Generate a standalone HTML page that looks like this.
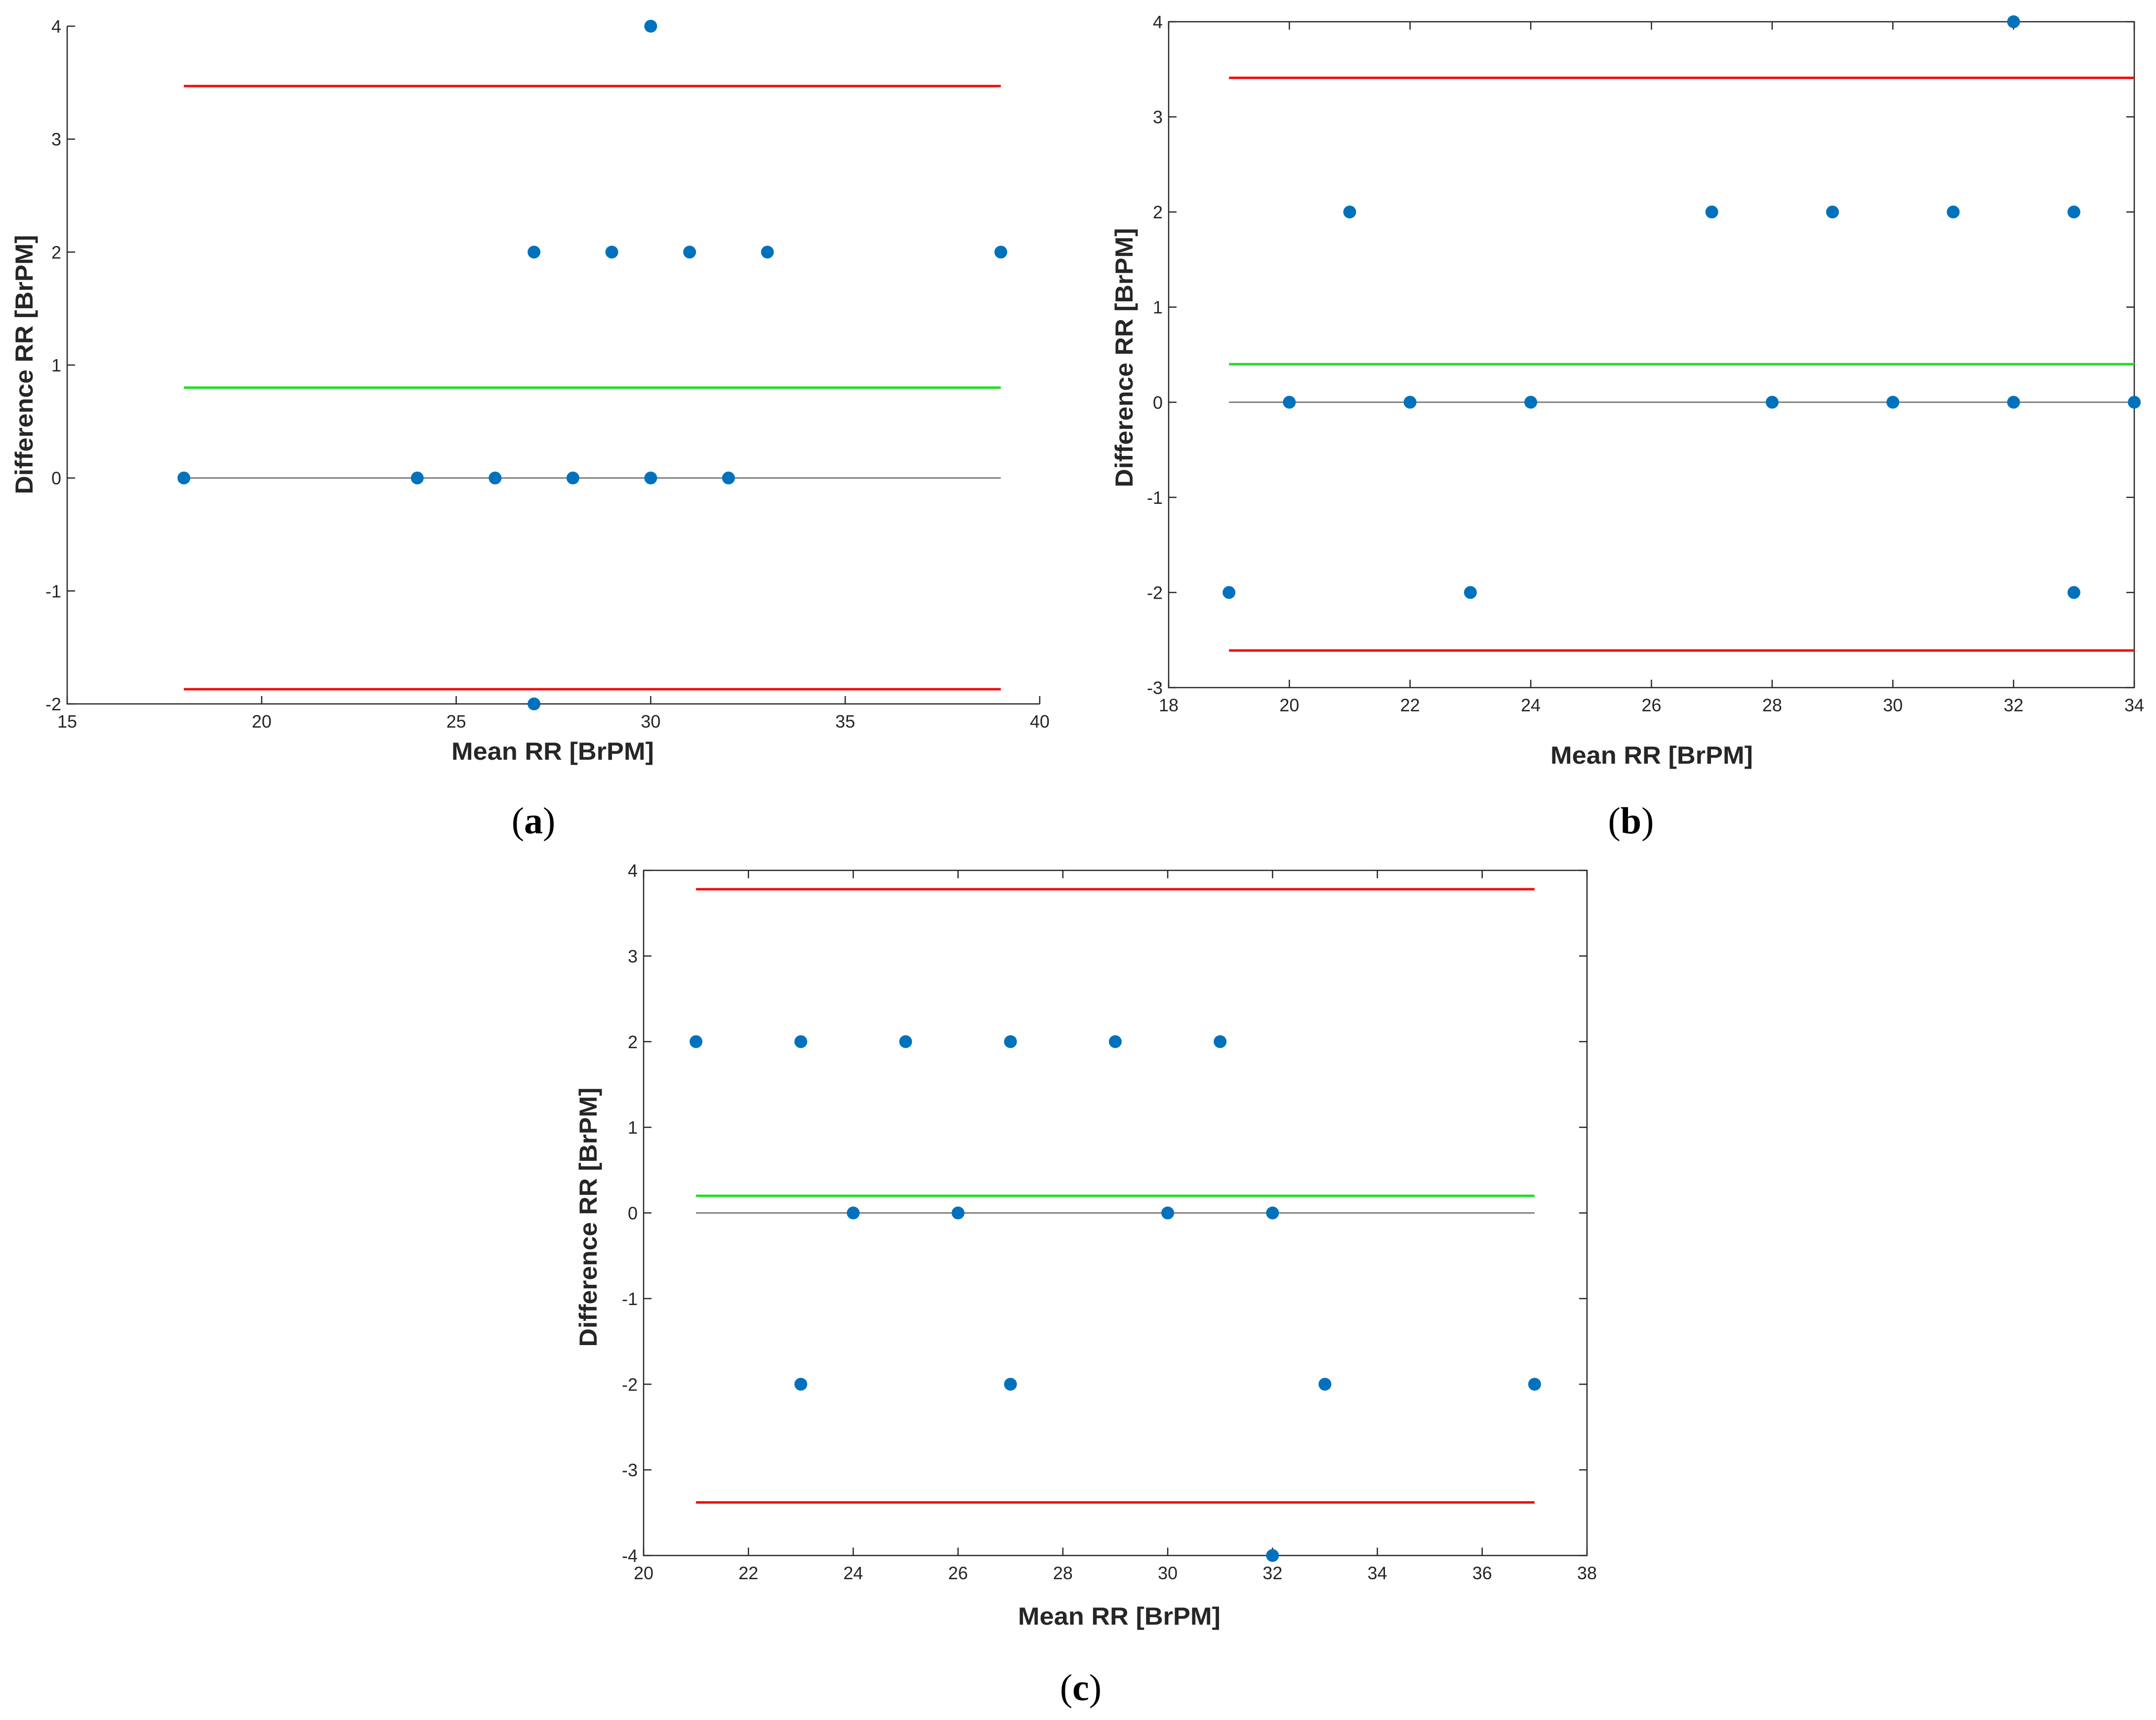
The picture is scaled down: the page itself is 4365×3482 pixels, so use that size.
<!DOCTYPE html>
<html><head><meta charset="utf-8"><style>
html,body{margin:0;padding:0;background:#fff}
svg{display:block}
</style></head><body>
<svg id="fig" width="4365" height="3482" viewBox="0 0 4365 3482" xmlns="http://www.w3.org/2000/svg"></svg>
<script>
// Panel (a) data
const aX = [18,24,26,27,27,28,29,30,30,31,32,33,39];
const aY = [0,0,0,2,-2,0,2,4,0,2,0,2,2];
const aMean = [0.8];
const aLimits = [3.47,-1.87];
const aXTicks = [15,20,25,30,35,40];
const aYTicks = [-2,-1,0,1,2,3,4];
// Panel (b) data
const bX = [19,20,21,22,23,24,27,28,29,30,31,32,32,33,33,34];
const bY = [-2,0,2,0,-2,0,2,0,2,0,2,4,0,2,-2,0];
const bMean = [0.4];
const bLimits = [3.41,-2.61];
const bXTicks = [18,20,22,24,26,28,30,32,34];
const bYTicks = [-3,-2,-1,0,1,2,3,4];
// Panel (c) data
const cX = [21,23,23,24,25,26,27,27,29,30,31,32,32,33,37];
const cY = [2,2,-2,0,2,0,2,-2,2,0,2,0,-4,-2,-2];
const cMean = [0.2];
const cLimits = [3.78,-3.38];
const cXTicks = [20,22,24,26,28,30,32,34,36,38];
const cYTicks = [-4,-3,-2,-1,0,1,2,3,4];

const NS = "http://www.w3.org/2000/svg";
const svg = document.getElementById('fig');
function mk(tag, attrs, parent, text){
  const e = document.createElementNS(NS, tag);
  for (const k in attrs) e.setAttribute(k, attrs[k]);
  if (text !== undefined) e.textContent = text;
  (parent || svg).appendChild(e);
  return e;
}
function panel(id, px0, px1, py0, py1, xMin, xMax, yMin, yMax, xs, ys, mean, lim, xt, yt, box, xlab, ylab, cap){
  const g = mk('g', {});
  
  
  const sx = v => px0 + (v - xMin) / (xMax - xMin) * (px1 - px0);
  const sy = v => py1 - (v - yMin) / (yMax - yMin) * (py1 - py0);
  const axc = '#262626';
  const ax = mk('path', {d: box ? `M${px0},${py0}V${py1}H${px1}V${py0}Z` : `M${px0},${py0}V${py1}H${px1}`, fill:'none', stroke:axc, 'stroke-width':2.5}, g);
  
  
  const tl = 16;
  xt.forEach(v => {
    const x = sx(v);
    mk('line', {x1:x, x2:x, y1:py1, y2:py1 - tl, stroke:axc, 'stroke-width':2.5}, g);
    if (box) mk('line', {x1:x, x2:x, y1:py0, y2:py0 + tl, stroke:axc, 'stroke-width':2.5}, g);
    const t = mk('text', {x:x, y:py1 + 48, 'font-family':'Liberation Sans, sans-serif', 'font-size':36, fill:axc, 'text-anchor':'middle'}, g, String(v));
    
    
  });
  yt.forEach(v => {
    const y = sy(v);
    mk('line', {x1:px0, x2:px0 + tl, y1:y, y2:y, stroke:axc, 'stroke-width':2.5}, g);
    if (box) mk('line', {x1:px1, x2:px1 - tl, y1:y, y2:y, stroke:axc, 'stroke-width':2.5}, g);
    const t = mk('text', {x:px0 - 12, y:y + 13, 'font-family':'Liberation Sans, sans-serif', 'font-size':36, fill:axc, 'text-anchor':'end'}, g, String(v));
    
    
  });
  const lx0 = sx(Math.min(...xs)), lx1 = sx(Math.max(...xs));
  const z = mk('line', {x1:lx0, x2:lx1, y1:sy(0), y2:sy(0), stroke:'#808080', 'stroke-width':3}, g);
  
  
  const m = mk('line', {x1:lx0, x2:lx1, y1:sy(mean[0]), y2:sy(mean[0]), stroke:'#22dd22', 'stroke-width':5}, g);
  
  
  lim.forEach(v => {
    const l = mk('line', {x1:lx0, x2:lx1, y1:sy(v), y2:sy(v), stroke:'#ee1111', 'stroke-width':5}, g);
    
    
  });
  xs.forEach((v, i) => {
    const c = mk('circle', {cx:sx(v), cy:sy(ys[i]), r:13, fill:'#0072BD'}, g);
    
    
  });
  const xl = mk('text', {x:xlab[0], y:xlab[1], 'font-family':'Liberation Sans, sans-serif', 'font-size':50, 'font-weight':'bold', fill:axc, 'text-anchor':'middle', textLength:410, lengthAdjust:'spacingAndGlyphs'}, g, 'Mean RR [BrPM]');
  
  
  const yl = mk('text', {x:0, y:0, transform:`translate(${ylab[0]},${ylab[1]}) rotate(-90)`, 'font-family':'Liberation Sans, sans-serif', 'font-size':50, 'font-weight':'bold', fill:axc, 'text-anchor':'middle', textLength:525, lengthAdjust:'spacingAndGlyphs'}, g, 'Difference RR [BrPM]');
  
  
  const cp = mk('text', {x:cap[0], y:cap[1], 'font-family':'Liberation Serif, serif', 'font-size':76, fill:'#000', 'text-anchor':'middle'}, g);
  
  
  mk('tspan', {}, cp, '(');
  mk('tspan', {'font-weight':'bold'}, cp, cap[2]);
  mk('tspan', {}, cp, ')');
}
panel('a', 136, 2105, 53, 1425, 15, 40, -2, 4, aX, aY, aMean, aLimits, aXTicks, aYTicks, false, [1119, 1538], [66, 738], [1080, 1687, 'a']);
panel('b', 2366, 4321, 44, 1392, 18, 34, -3, 4, bX, bY, bMean, bLimits, bXTicks, bYTicks, true, [3344, 1546], [2293, 724], [3302, 1687, 'b']);
panel('c', 1303, 3213, 1762, 3149, 20, 38, -4, 4, cX, cY, cMean, cLimits, cXTicks, cYTicks, true, [2266, 3289], [1208, 2464], [2188, 3442, 'c']);
</script>
</body></html>
